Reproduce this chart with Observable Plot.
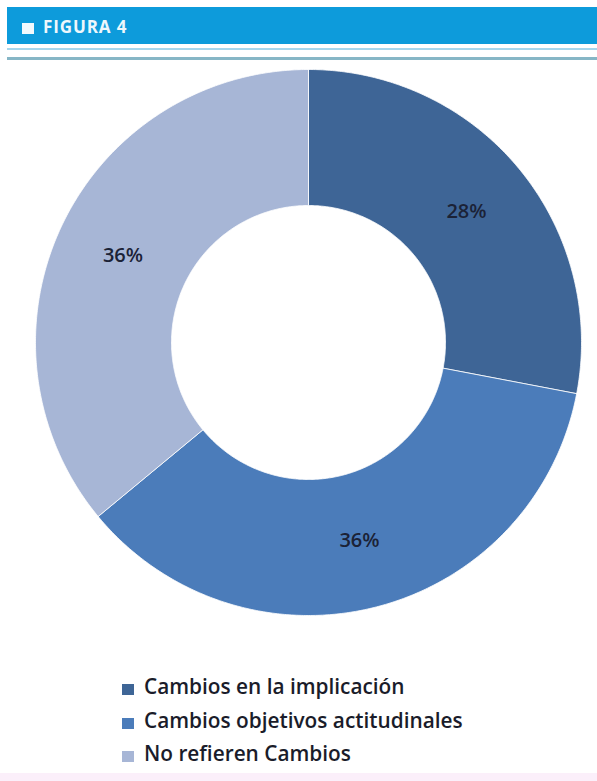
<!DOCTYPE html>
<html>
<head>
<meta charset="utf-8">
<script src="https://cdn.jsdelivr.net/npm/d3@7"></script>
<script src="https://cdn.jsdelivr.net/npm/@observablehq/plot@0.6"></script>
<style>
  html, body { margin: 0; padding: 0; background: #ffffff; }
  body { width: 597px; height: 781px; position: relative; overflow: hidden; font-family: "Open Sans", Lato, sans-serif; }
  #header { position: absolute; left: 7px; top: 7px; width: 590px; height: 37px; background: #0d9bdb; }
  #header span { position: absolute; left: 36px; top: 8px; color: #eef7fc; font: 700 17px "Open Sans", Lato, sans-serif; letter-spacing: 0.9px; }
  #header i { position: absolute; left: 15px; top: 16px; width: 12px; height: 11px; background: #f2f9fd; }
  #line1 { position: absolute; left: 7px; top: 48px; width: 590px; height: 2px; background: #a6d6ec; }
  #line2 { position: absolute; left: 7px; top: 57px; width: 590px; height: 3px; background: #86b6c6; }
  #chart { position: absolute; left: 0; top: 62px; }
  #legend { position: absolute; left: 122px; top: 671px; }
  .row { position: relative; height: 33.5px; font: 600 20.8px "Open Sans", sans-serif; color: #1a1c2a; }
  .row i { position: absolute; left: 0; top: 13px; width: 12px; height: 11px; }
  .row span { position: absolute; left: 22px; top: 1px; white-space: nowrap; }
  #bottom { position: absolute; left: 0; top: 773px; width: 597px; height: 8px; background: #fbeffa; }
</style>
</head>
<body>
<div id="header"><i></i><span>FIGURA 4</span></div>
<div id="line1"></div>
<div id="line2"></div>
<div id="chart"></div>
<div id="legend"></div>
<div id="bottom"></div>
<script>
const categories = ["Cambios en la implicación", "Cambios objetivos actitudinales", "No refieren Cambios"];
const values = [28, 36, 36];
const labels = ["28%", "36%", "36%"];
const colors = ["#3e6596", "#4b7cba", "#a7b6d6"];

const outerR = 1, innerR = 137 / 273;
const total = d3.sum(values);
const polys = [];
const labelPts = [];
let acc = 0;
values.forEach((v, i) => {
  const a0 = acc / total * 2 * Math.PI;
  acc += v;
  const a1 = acc / total * 2 * Math.PI;
  const n = Math.max(2, Math.ceil((a1 - a0) / (Math.PI / 360)));
  const pts = [];
  for (let k = 0; k <= n; k++) {
    const a = a0 + (a1 - a0) * k / n;
    pts.push({x: outerR * Math.sin(a), y: outerR * Math.cos(a), cat: categories[i]});
  }
  for (let k = n; k >= 0; k--) {
    const a = a0 + (a1 - a0) * k / n;
    pts.push({x: innerR * Math.sin(a), y: innerR * Math.cos(a), cat: categories[i]});
  }
  pts.push({...pts[0]});
  polys.push(...pts);
  const am = (a0 + a1) / 2, rm = (outerR + innerR) / 2;
  labelPts.push({x: rm * Math.sin(am), y: rm * Math.cos(am), label: labels[i]});
});

const cx = 308, cy = 342 - 62, R = 273;
const chart = Plot.plot({
  width: 597,
  height: 600,
  margin: 0,
  x: {domain: [-1, 1], range: [cx - R, cx + R], axis: null},
  y: {domain: [-1, 1], range: [cy + R, cy - R], axis: null},
  color: {domain: categories, range: colors},
  style: {background: "transparent"},
  marks: [
    Plot.line(polys, {x: "x", y: "y", z: "cat", fill: "cat", stroke: "#ffffff", strokeWidth: 0.8, curve: "linear"}),
    Plot.text(labelPts, {x: "x", y: "y", text: "label", fill: "#1b2236", fontSize: 20, fontWeight: 600, fontFamily: "'Open Sans', sans-serif"})
  ]
});
document.getElementById("chart").appendChild(chart);

const legend = document.getElementById("legend");
categories.forEach((c, i) => {
  const row = document.createElement("div");
  row.className = "row";
  const sw = document.createElement("i");
  sw.style.background = colors[i];
  const t = document.createElement("span");
  t.textContent = c;
  row.appendChild(sw); row.appendChild(t);
  legend.appendChild(row);
});
</script>
</body>
</html>
